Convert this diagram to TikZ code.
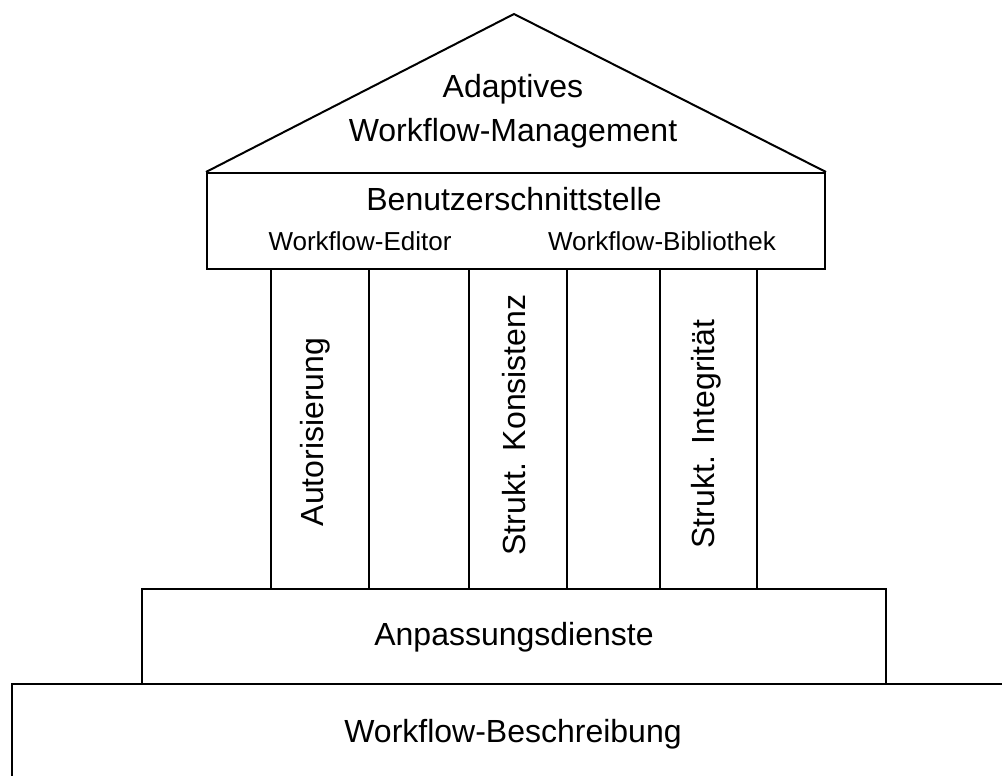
\documentclass[tikz,border=0pt]{standalone}
\usepackage{fontspec}
\setmainfont{Liberation Sans}
\usepackage{tikz}
\usetikzlibrary{positioning}
\tikzset{
    block/.style={rectangle, draw=black, line width=2pt, inner sep=0pt, anchor=north west},
    pillar/.style={rectangle, draw=black, line width=2pt, inner sep=0pt, anchor=north west, minimum height=320pt},
    bigtext/.style={inner sep=0pt, font=\fontsize{32}{44}\selectfont},
    smalltext/.style={inner sep=0pt, font=\fontsize{26}{30}\selectfont},
}

\begin{document}
\begin{tikzpicture}[x=1pt,y=-1pt]
  \useasboundingbox (0,0) rectangle (1002,776);
  \clip (0,0) rectangle (1002,776);

  % Fundament
  \node[block, minimum width=1020pt, minimum height=120pt] (base) at (11,683) {};
  \node[block, minimum width=744pt, minimum height=95pt]  (adapt) at (141,588) {};

  % Saeulen
  \node[pillar, minimum width=98pt]  (p1) at (270,268) {};
  \node[pillar, minimum width=100pt] (p2) at (368,268) {};
  \node[pillar, minimum width=98pt]  (p3) at (468,268) {};
  \node[pillar, minimum width=93pt]  (p4) at (566,268) {};
  \node[pillar, minimum width=97pt]  (p5) at (659,268) {};

  % Dach
  \node[block, minimum width=618pt, minimum height=96pt] (ui) at (206,172) {};
  \coordinate (apex) at (514,14);
  \draw[line width=2pt, line join=miter] (ui.north west) -- (apex) -- (ui.north east);

  % Beschriftungen
  \node[bigtext, align=center] (roof) at (513,111) {Adaptives\\Workflow-Management};
  \node[bigtext, anchor=base] (uitext) at (514,210) {Benutzerschnittstelle};
  \node[smalltext, anchor=base] (editor) at (360,250) {Workflow-Editor};
  \node[smalltext, anchor=base] (library) at (662,250) {Workflow-Bibliothek};
  \node[bigtext, anchor=base, rotate=90] (auth) at (323,432) {Autorisierung};
  \node[bigtext, anchor=base, rotate=90] (cons) at (525,425) {Strukt. Konsistenz};
  \node[bigtext, anchor=base, rotate=90] (integ) at (714,434) {Strukt. Integrität};
  \node[bigtext, anchor=base] (adapttext) at (514,645) {Anpassungsdienste};
  \node[bigtext, anchor=base] (basetext) at (513,742) {Workflow-Beschreibung};
\end{tikzpicture}
\end{document}
